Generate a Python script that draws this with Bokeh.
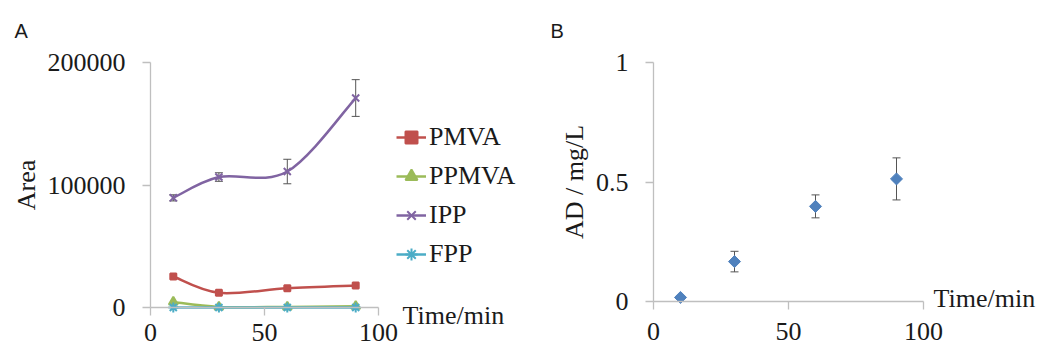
import math
from bokeh.plotting import figure
from bokeh.layouts import row
from bokeh.models import ColumnDataSource, Whisker, TeeHead, Label, Legend, LegendItem, Range1d, FixedTicker
from bokeh.embed import file_html
from bokeh.resources import INLINE

# ---------------- data ----------------
time_a = [10, 30, 60, 90]
pmva = [25300, 12000, 15700, 18000]
ppmva = [4500, 500, 500, 1000]
ipp = [89500, 106500, 111000, 171000]
ipp_err = [2500, 3500, 10000, 15000]
fpp = [0, 0, 0, 0]

time_b = [10, 30, 60, 90]
ad = [0.017, 0.167, 0.398, 0.513]
ad_err = [0.005, 0.043, 0.048, 0.088]

series_names = ["PMVA", "PPMVA", "IPP", "FPP"]
a_xticks = [0, 50, 100]
a_yticks = [0, 100000, 200000]
b_xticks = [0, 50, 100]
b_yticks = [0, 0.5, 1]

SERIF = "Liberation Serif"
FS = "26px"
TXT = "#1a1a1a"
AX = "#bfbfbf"
H = 349


def x_range_for(width, px0, px1, d0, d1):
    s = (px1 - px0) / (d1 - d0)
    start = d0 - px0 / s
    return Range1d(start, start + width / s)


def y_range_for(height, py0, py1, d0, d1):
    # py0: pixel (from top) of d0, py1: pixel of d1
    s = (py0 - py1) / (d1 - d0)
    end = d1 + py1 / s
    return Range1d(end - height / s, end)


def smooth_segments(xs, ys):
    """Excel-like smoothed line: cubic bezier segments through the points."""
    n = len(xs)
    out = dict(x0=[], y0=[], x1=[], y1=[], cx0=[], cy0=[], cx1=[], cy1=[])
    for i in range(n - 1):
        im1 = max(i - 1, 0)
        ip2 = min(i + 2, n - 1)
        out["x0"].append(xs[i]); out["y0"].append(ys[i])
        out["x1"].append(xs[i + 1]); out["y1"].append(ys[i + 1])
        out["cx0"].append(xs[i] + (xs[i + 1] - xs[im1]) / 6.0)
        out["cy0"].append(ys[i] + (ys[i + 1] - ys[im1]) / 6.0)
        out["cx1"].append(xs[i + 1] - (xs[ip2] - xs[i]) / 6.0)
        out["cy1"].append(ys[i + 1] - (ys[ip2] - ys[i]) / 6.0)
    return out


def style_axes(p, xticks, yticks, ylabel, xstandoff, ystandoff):
    p.xaxis.ticker = FixedTicker(ticks=xticks)
    p.yaxis.ticker = FixedTicker(ticks=yticks)
    p.xaxis.fixed_location = 0
    p.yaxis.fixed_location = 0
    p.xaxis.bounds = (xticks[0], xticks[-1])
    p.yaxis.bounds = (yticks[0], yticks[-1])
    for ax in (p.xaxis[0], p.yaxis[0]):
        ax.axis_line_color = AX
        ax.axis_line_width = 1.3
        ax.major_tick_line_color = AX
        ax.major_tick_line_width = 1.3
        ax.major_tick_out = 8
        ax.major_tick_in = 0
        ax.minor_tick_line_color = None
        ax.major_label_text_font = SERIF
        ax.major_label_text_font_size = FS
        ax.major_label_text_color = TXT
        ax.axis_label_text_font = SERIF
        ax.axis_label_text_font_size = FS
        ax.axis_label_text_color = TXT
        ax.axis_label_text_font_style = "normal"
    p.xaxis.major_label_standoff = xstandoff
    p.yaxis.major_label_standoff = ystandoff
    p.yaxis.axis_label = ylabel
    p.yaxis.axis_label_standoff = 4
    p.xgrid.grid_line_color = None
    p.ygrid.grid_line_color = None
    p.outline_line_color = None


# ---------------- panel A ----------------
WA = 530
pA = figure(width=WA, height=H, output_backend="svg", toolbar_location=None,
            x_range=x_range_for(WA, 150, 378, 0, 100),
            y_range=y_range_for(H, 307, 62, 0, 200000),
            min_border=0)
style_axes(pA, a_xticks, a_yticks, "Area", 8, 17)
pA.yaxis.formatter.use_scientific = False

colors = ["#c0504d", "#9bbb59", "#8064a2", "#4bacc6"]
markers = ["square", "triangle", "x", "asterisk"]
sizes = [6, 9, 10, 10]
values = [pmva, ppmva, ipp, fpp]

src_err = ColumnDataSource(dict(x=time_a,
                                upper=[v + e for v, e in zip(ipp, ipp_err)],
                                lower=[v - e for v, e in zip(ipp, ipp_err)]))
pA.add_layout(Whisker(base="x", upper="upper", lower="lower", source=src_err,
                      line_color="#555555", line_width=1,
                      upper_head=TeeHead(size=8, line_color="#555555", line_width=1),
                      lower_head=TeeHead(size=8, line_color="#555555", line_width=1)))

items = []
for name, ys, c, m, s in zip(series_names, values, colors, markers, sizes):
    seg = smooth_segments(time_a, ys)
    rb = pA.bezier(x0=seg["x0"], y0=seg["y0"], x1=seg["x1"], y1=seg["y1"],
                   cx0=seg["cx0"], cy0=seg["cy0"], cx1=seg["cx1"], cy1=seg["cy1"],
                   line_color=c, line_width=2.5)
    rs = pA.scatter(time_a, ys, marker=m, size=s, fill_color=c, line_color=c, line_width=2)
    items.append(LegendItem(label=name, renderers=[rb, rs]))

legend = Legend(items=items, location=(396, 80), orientation="vertical",
                label_text_font=SERIF, label_text_font_size=FS, label_text_color=TXT,
                glyph_width=30, glyph_height=30, label_height=30, label_standoff=3,
                spacing=9, padding=0, margin=0,
                background_fill_alpha=0, border_line_color=None)
pA.add_layout(legend, "center")

pA.add_layout(Label(x=100, y=0, x_offset=24, y_offset=-8, text="Time/min",
                    text_font=SERIF, text_font_size=FS, text_color=TXT,
                    text_baseline="middle", text_align="left"))
pA.add_layout(Label(x=0, y=200000, x_offset=-136, y_offset=32, text="A",
                    text_font="Liberation Sans", text_font_size="20px", text_color=TXT,
                    text_baseline="middle", text_align="left"))

# ---------------- panel B ----------------
WB = 510
pB = figure(width=WB, height=H, output_backend="svg", toolbar_location=None,
            x_range=x_range_for(WB, 653 - WA, 923 - WA, 0, 100),
            y_range=y_range_for(H, 301, 62, 0, 1),
            min_border=0)
style_axes(pB, b_xticks, b_yticks, "AD / mg/L", 13, 17)

src_b = ColumnDataSource(dict(x=time_b,
                              upper=[v + e for v, e in zip(ad, ad_err)],
                              lower=[v - e for v, e in zip(ad, ad_err)]))
pB.add_layout(Whisker(base="x", upper="upper", lower="lower", source=src_b,
                      line_color="#555555", line_width=1,
                      upper_head=TeeHead(size=8, line_color="#555555", line_width=1),
                      lower_head=TeeHead(size=8, line_color="#555555", line_width=1)))
pB.scatter(time_b, ad, marker="square", angle=math.pi / 4, size=8.5,
           fill_color="#4f81bd", line_color="#4f81bd")

pB.add_layout(Label(x=100, y=0, x_offset=10, y_offset=3, text="Time/min",
                    text_font=SERIF, text_font_size=FS, text_color=TXT,
                    text_baseline="middle", text_align="left"))
pB.add_layout(Label(x=0, y=1, x_offset=-103, y_offset=32, text="B",
                    text_font="Liberation Sans", text_font_size="20px", text_color=TXT,
                    text_baseline="middle", text_align="left"))

layout = row(pA, pB)
open("out.html", "w").write(file_html(layout, INLINE))
